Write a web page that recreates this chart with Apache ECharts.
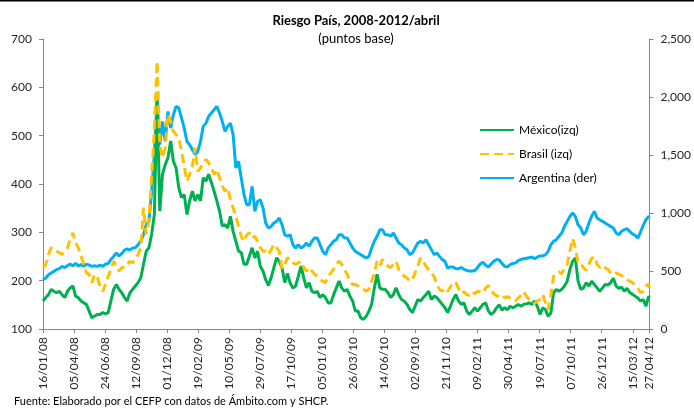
<!DOCTYPE html>
<html>
<head>
<meta charset="utf-8">
<script src="https://cdn.jsdelivr.net/npm/echarts@6/dist/echarts.min.js"></script>
<style>
  html, body { margin: 0; padding: 0; background: #fff; }
  #chart { width: 694px; height: 410px; }
</style>
</head>
<body>
<div id="chart"></div>
<script>
// fechas: una muestra por semana desde 16/01/08, mas el ultimo dato 27/04/12
var startDate = Date.UTC(2008, 0, 16);
var stepDays = 7;
var lastDate = Date.UTC(2012, 3, 27);
var DAY = 86400000;

// etiquetas del eje de fechas
var tickLabels = ['16/01/08', '05/04/08', '24/06/08', '12/09/08', '01/12/08', '19/02/09', '10/05/09',
  '29/07/09', '17/10/09', '05/01/10', '26/03/10', '14/06/10', '02/09/10', '21/11/10', '09/02/11',
  '30/04/11', '19/07/11', '07/10/11', '26/12/11', '15/03/12', '27/04/12'];

// Mexico (izq), puntos base
var mexico = [
  158, 165, 171, 182, 178, 175, 178, 171, 165, 178, 185, 189, 168, 165, 158, 154, 151, 137, 123, 127,
  130, 130, 134, 131, 134, 158, 182, 192, 182, 175, 165, 158, 175, 182, 189, 196, 206, 234, 261, 268,
  296, 337, 590, 344, 420, 440, 454,
  489, 447, 433, 392, 372, 378, 337, 365, 385, 365, 378, 365, 413, 406, 420, 403, 385, 365, 344, 313,
  316, 309, 333, 302, 282, 261, 258, 234, 234, 251, 268, 247, 261, 230, 220, 202, 190, 206, 227, 247,
  240, 227, 196, 215, 195, 185,
  189, 209, 230, 206, 185, 196, 178, 175, 178, 165, 171, 165, 154, 154, 171, 185, 199, 185, 178, 182,
  168, 158, 137, 137, 123, 120, 126, 137, 151, 185, 213, 185, 182, 182, 175, 165, 171, 185, 171, 161,
  158, 151, 141, 134, 147, 161,
  158, 165, 171, 178, 161, 168, 165, 158, 151, 144, 134, 147, 161, 171, 158, 151, 154, 137, 130, 137,
  144, 137, 144, 151, 154, 137, 130, 135, 144, 150, 139, 144, 140, 147, 144, 147, 151, 147, 151, 152,
  154, 151, 158, 147, 130, 144,
  140, 126, 133, 175, 182, 178, 182, 189, 199, 223, 240, 247, 199, 182, 185, 196, 189, 199, 192, 185,
  178, 185, 192, 191, 196, 205, 189, 184, 187, 178, 184, 176, 172, 168, 164, 158, 161, 147, 168,
  165
];

// Brasil (izq), puntos base
var brasil = [
  227, 233, 254, 268, 265, 261, 258, 254, 261, 268, 285, 299, 278, 268, 251, 234, 216, 213, 196, 213,
  206, 189, 178, 192, 209, 223, 240, 230, 220, 227, 227, 233, 240, 237, 244, 254, 268, 351, 296, 323,
  420, 510, 654, 482, 454, 475, 544,
  530, 509, 502, 495, 468, 437, 406, 420, 437, 475, 426, 433, 444, 451, 444, 433, 420, 430, 413, 396,
  385, 392, 368, 351, 333, 313, 292, 281, 295, 299, 288, 292, 281, 268, 261, 261, 254, 264, 275, 268,
  261, 225, 234, 247, 245, 237,
  234, 237, 240, 227, 220, 227, 220, 213, 209, 202, 199, 196, 209, 216, 223, 234, 240, 234, 223, 213,
  199, 192, 192, 189, 185, 182, 178, 182, 199, 216, 240, 230, 244, 237, 230, 227, 234, 240, 223, 216,
  209, 206, 199, 202, 216, 230,
  247, 240, 230, 223, 216, 209, 192, 182, 178, 185, 178, 187, 196, 196, 184, 173, 177, 171, 170, 177,
  173, 178, 177, 175, 185, 190, 179, 173, 168, 170, 171, 164, 167, 164, 159, 158, 164, 170, 177, 168,
  161, 158, 153, 158, 161, 171,
  154, 140, 171, 209, 216, 218, 214, 227, 234, 261, 287, 268, 237, 234, 227, 221, 234, 246, 249, 234,
  227, 232, 227, 223, 216, 213, 216, 213, 211, 206, 202, 199, 196, 191, 184, 175, 178, 189, 193,
  185
];

// Argentina (der), puntos base
var argentina = [
  425, 440, 468, 483, 497, 511, 520, 540, 530, 545, 560, 545, 565, 545, 555, 540, 560, 550, 540, 545,
  540, 550, 540, 560, 565, 600, 626, 655, 630, 650, 680, 690, 680, 698, 700, 727, 756, 813, 899, 928,
  1187, 1503, 1962, 1589, 1790, 1617, 1876,
  1732, 1847, 1919, 1905, 1819, 1732, 1617, 1589, 1546, 1503, 1531, 1617, 1747, 1775, 1833, 1862, 1890, 1919, 1862, 1790,
  1704, 1747, 1775, 1675, 1388, 1445, 1301, 1158, 1072, 1072, 1230, 1014, 1100, 1115, 1043, 914, 871, 885, 914, 928,
  957, 899, 813, 799, 813, 727,
  698, 727, 698, 712, 741, 712, 756, 784, 784, 727, 669, 641, 698, 727, 756, 770, 813, 813, 784, 784,
  741, 698, 669, 655, 641, 626, 612, 626, 698, 756, 799, 856, 856, 813, 813, 799, 827, 784, 741, 727,
  698, 684, 641, 655, 698, 741,
  756, 741, 770, 727, 684, 641, 655, 626, 598, 583, 525, 535, 535, 520, 520, 530, 515, 505, 500, 500,
  505, 530, 560, 575, 550, 535, 560, 585, 600, 595, 565, 540, 535, 555, 565, 570, 590, 600, 605, 610,
  615, 620, 605, 620, 630, 630,
  641, 669, 727, 756, 770, 799, 827, 885, 928, 971, 1000, 971, 899, 871, 813, 842, 914, 971, 1014, 957,
  942, 928, 914, 899, 885, 871, 827, 813, 842, 856, 865, 842, 819, 808, 784, 836, 894, 942, 971,
  962
];

// el eje x es numerico: dias transcurridos desde startDate
function labelToDay(s) {
  var p = s.split('/');
  var t = Date.UTC(2000 + parseInt(p[2], 10), parseInt(p[1], 10) - 1, parseInt(p[0], 10));
  return Math.round((t - startDate) / DAY);
}

function pad(n) {
  return (n < 10 ? '0' : '') + n;
}

function dayToLabel(day) {
  var d = new Date(startDate + day * DAY);
  return pad(d.getUTCDate()) + '/' + pad(d.getUTCMonth() + 1) + '/' + String(d.getUTCFullYear()).slice(2);
}

var lastDay = Math.round((lastDate - startDate) / DAY);

function toPairs(values) {
  var out = [];
  for (var i = 0; i < values.length; i++) {
    var day = (i === values.length - 1) ? lastDay : i * stepDays;
    out.push([day, values[i]]);
  }
  return out;
}

var tickDays = tickLabels.map(labelToDay);

var fontFamily = 'Lato, "Open Sans", sans-serif';
var textColor = '#262626';
var axisColor = '#868686';

var chart = echarts.init(document.getElementById('chart'), null, { renderer: 'canvas' });

var option = {
  animation: false,
  backgroundColor: '#fff',
  textStyle: { fontFamily: fontFamily },
  title: {
    text: 'Riesgo País, 2008-2012/abril',
    subtext: '(puntos base)',
    left: 351,
    top: 9,
    textAlign: 'center',
    itemGap: 5,
    textStyle: { fontSize: 13, fontWeight: 'bold', color: '#000', fontFamily: fontFamily },
    subtextStyle: { fontSize: 13, color: '#000', fontFamily: fontFamily }
  },
  legend: {
    orient: 'vertical',
    left: 474,
    top: 119,
    itemWidth: 34,
    itemHeight: 14,
    itemGap: 12,
    itemStyle: { opacity: 0 },   // solo la linea, sin el circulo
    textStyle: { fontSize: 12, color: '#000', fontFamily: fontFamily },
    data: ['México(izq)', 'Brasil (izq)', 'Argentina (der)']
  },
  grid: {
    left: 43,
    top: 39,
    width: 607,
    height: 290
  },
  xAxis: {
    type: 'value',
    min: 0,
    max: lastDay,
    splitLine: { show: false },
    axisLine: { lineStyle: { color: axisColor } },
    axisTick: {
      show: true,
      length: 4,
      customValues: tickDays,
      lineStyle: { color: axisColor }
    },
    axisLabel: {
      rotate: 90,
      margin: 8,
      fontSize: 12,
      color: textColor,
      customValues: tickDays,
      formatter: function(v) { return dayToLabel(v); }
    }
  },
  yAxis: [
    {
      type: 'value',
      min: 100,
      max: 700,
      interval: 100,
      splitLine: { show: false },
      axisLine: { show: true, lineStyle: { color: axisColor } },
      axisTick: { show: true, length: 4, lineStyle: { color: axisColor } },
      axisLabel: { fontSize: 12, color: textColor, margin: 11 }
    },
    {
      type: 'value',
      min: 0,
      max: 2500,
      interval: 500,
      position: 'right',
      splitLine: { show: false },
      axisLine: { show: true, lineStyle: { color: axisColor } },
      axisTick: { show: true, length: 4, lineStyle: { color: axisColor } },
      axisLabel: {
        fontSize: 12,
        color: textColor,
        margin: 11,
        formatter: function(v) { return v.toLocaleString('en-US'); }
      }
    }
  ],
  series: [
    {
      name: 'México(izq)',
      type: 'line',
      yAxisIndex: 0,
      symbol: 'none',
      data: toPairs(mexico),
      lineStyle: { color: '#00B050', width: 3 },
      itemStyle: { color: '#00B050' },
      z: 3
    },
    {
      name: 'Brasil (izq)',
      type: 'line',
      yAxisIndex: 0,
      symbol: 'none',
      data: toPairs(brasil),
      lineStyle: { color: '#FFC000', width: 3, type: [9, 5] },
      itemStyle: { color: '#FFC000' },
      z: 4
    },
    {
      name: 'Argentina (der)',
      type: 'line',
      yAxisIndex: 1,
      symbol: 'none',
      data: toPairs(argentina),
      lineStyle: { color: '#00B0F0', width: 3 },
      itemStyle: { color: '#00B0F0' },
      z: 2
    }
  ],
  graphic: [
    {
      type: 'rect',
      left: 0,
      top: 0,
      shape: { width: 694, height: 1.5 },
      style: { fill: '#000' }
    },
    {
      type: 'text',
      left: 14,
      top: 396,
      style: {
        text: 'Fuente: Elaborado por el CEFP con datos de Ámbito.com y SHCP.',
        font: '11px ' + fontFamily,
        fill: '#000'
      }
    }
  ]
};

chart.setOption(option);
</script>
</body>
</html>
